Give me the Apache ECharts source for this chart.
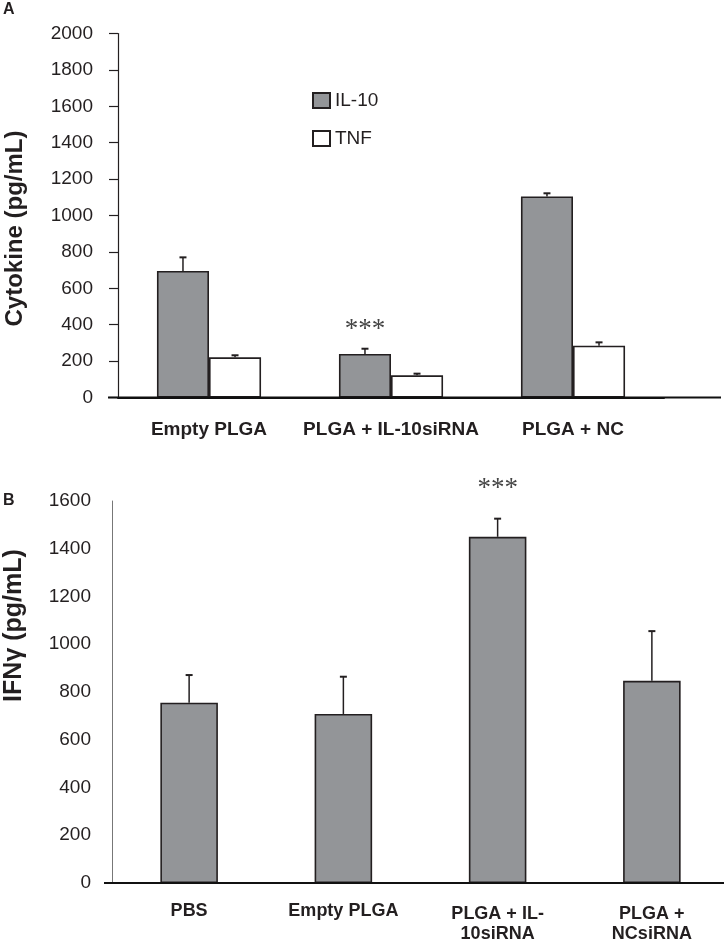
<!DOCTYPE html>
<html><head><meta charset="utf-8">
<script src="https://cdn.jsdelivr.net/npm/echarts@6/dist/echarts.min.js"></script>
<style>html,body{margin:0;padding:0;background:#fff}#c{width:724px;height:943px}</style>
</head><body><div id="c"></div>
<script>
// Panel A
const catsA = ['Empty PLGA', 'PLGA + IL-10siRNA', 'PLGA + NC'];
const il10 = [695, 239, 1105];
const il10Err = [75, 29, 17];
const tnf = [221, 122, 285];
const tnfErr = [11, 9, 18];
const sigA = ['', '***', ''];
const yTicksA = [0, 200, 400, 600, 800, 1000, 1200, 1400, 1600, 1800, 2000];
// Panel B
const catsB = ['PBS', 'Empty PLGA', 'PLGA + IL-\n10siRNA', 'PLGA +\nNCsiRNA'];
const ifng = [755, 708, 1450, 847];
const ifngErr = [116, 156, 76, 208];
const sigB = ['', '', '***', ''];
const yTicksB = [0, 200, 400, 600, 800, 1000, 1200, 1400, 1600];

const FONT = '"Liberation Sans", Arial, Helvetica, sans-serif';
const INK = '#231f20';
const GRAY = '#939598';
const BW_A = 0.286, BW_B = 0.373;
const gridA = {left: 118, top: 33.5, width: 546, height: 364, containLabel: false, outerBoundsMode: 'none'};
const gridB = {left: 112, top: 501, width: 617, height: 382, containLabel: false, outerBoundsMode: 'none'};

function errItem(offsetRatio, sig, sigGap) {
  return function (params, api) {
    const i = api.value(0), v = api.value(1), e = api.value(2);
    const base = api.coord([i, v]);
    const top = api.coord([i, v + e]);
    const band = api.size([1, 0])[0];
    const x = base[0] + band * offsetRatio;
    const children = [
      {type: 'line', shape: {x1: x, y1: base[1], x2: x, y2: top[1]}, style: {stroke: INK, lineWidth: 1.5}},
      {type: 'line', shape: {x1: x - 3.5, y1: top[1], x2: x + 3.5, y2: top[1]}, style: {stroke: INK, lineWidth: 2}}
    ];
    const s = sig[params.dataIndex];
    if (s) {
      children.push({type: 'text', x: x, y: top[1] - sigGap,
        style: {text: s, font: '27px "Liberation Serif", "Times New Roman", serif', fill: '#444',
          align: 'center', verticalAlign: 'middle', textAlign: 'center', textVerticalAlign: 'middle'}});
    }
    return {type: 'group', children: children};
  };
}

const plain = v => String(v);

const chart = echarts.init(document.getElementById('c'), null, {renderer: 'canvas'});
chart.setOption({
  animation: false,
  backgroundColor: '#fff',
  grid: [gridA, gridB],
  legend: {
    data: [{name: 'IL-10', icon: 'rect'}, {name: 'TNF', icon: 'rect'}],
    orient: 'vertical', left: 312, top: 91, padding: 0,
    itemWidth: 17, itemHeight: 15, itemGap: 19,
    textStyle: {fontFamily: FONT, fontSize: 19, color: INK}
  },
  xAxis: [
    {type: 'category', gridIndex: 0, data: catsA, z: 4,
      axisLine: {show: true, onZero: false, lineStyle: {color: '#111', width: 2}}, axisTick: {show: false},
      axisLabel: {margin: 23, fontFamily: FONT, fontSize: 19, fontWeight: 'bold', color: INK, interval: 0}},
    {type: 'category', gridIndex: 1, z: 4,
      data: catsB.map(c => c.indexOf('\n') >= 0 ? {value: c, textStyle: {padding: [3, 0, 0, 0]}} : c),
      axisLine: {show: true, onZero: false, lineStyle: {color: '#111', width: 2}}, axisTick: {show: false},
      axisLabel: {margin: 18, fontFamily: FONT, fontSize: 18, fontWeight: 'bold', color: INK, interval: 0, lineHeight: 20}}
  ],
  yAxis: [
    {type: 'value', gridIndex: 0, min: yTicksA[0], max: yTicksA[yTicksA.length - 1], interval: yTicksA[1] - yTicksA[0],
      splitLine: {show: false},
      axisLine: {show: true, lineStyle: {color: INK, width: 1.2}},
      axisTick: {show: true, length: 9, lineStyle: {color: INK, width: 1.2}},
      axisLabel: {margin: 25, fontFamily: FONT, fontSize: 19, color: INK, formatter: plain}},
    {type: 'value', gridIndex: 1, min: yTicksB[0], max: yTicksB[yTicksB.length - 1], interval: yTicksB[1] - yTicksB[0],
      splitLine: {show: false},
      axisLine: {show: true, lineStyle: {color: '#777', width: 1}},
      axisTick: {show: false},
      axisLabel: {margin: 21, fontFamily: FONT, fontSize: 19, color: INK, formatter: plain}}
  ],
  graphic: [
    {type: 'text', left: 3, top: 2, style: {text: 'A', font: 'bold 16px ' + FONT, fill: INK}},
    {type: 'text', left: 3, top: 493, style: {text: 'B', font: 'bold 16px ' + FONT, fill: INK}},
    {type: 'text', x: 15, y: 228.5, rotation: Math.PI / 2,
      style: {text: 'Cytokine (pg/mL)', font: 'bold 24px ' + FONT, fill: INK, align: 'center', verticalAlign: 'middle', textAlign: 'center', textVerticalAlign: 'middle'}},
    {type: 'text', x: 14, y: 625.5, rotation: Math.PI / 2,
      style: {text: 'IFNγ (pg/mL)', font: 'bold 25px ' + FONT, fill: INK, align: 'center', verticalAlign: 'middle', textAlign: 'center', textVerticalAlign: 'middle'}},
    // baseline rules spanning the full panel width (the axis extends past the plot areas)
    {type: 'line', silent: true, z: 10,
      shape: {x1: 108, y1: gridA.top + gridA.height, x2: 721, y2: gridA.top + gridA.height},
      style: {stroke: '#111', lineWidth: 2}},
    {type: 'line', silent: true, z: 10,
      shape: {x1: 104, y1: gridB.top + gridB.height, x2: 721, y2: gridB.top + gridB.height},
      style: {stroke: '#111', lineWidth: 2}}
  ],
  series: [
    {name: 'IL-10', type: 'bar', xAxisIndex: 0, yAxisIndex: 0, data: il10,
      barWidth: (BW_A * 100) + '%', barGap: '0%',
      itemStyle: {color: GRAY, borderColor: INK, borderWidth: 1.6}},
    {name: 'TNF', type: 'bar', xAxisIndex: 0, yAxisIndex: 0, data: tnf,
      barWidth: (BW_A * 100) + '%', barGap: '0%',
      itemStyle: {color: '#fff', borderColor: INK, borderWidth: 1.6}},
    {name: 'IL-10 err', type: 'custom', xAxisIndex: 0, yAxisIndex: 0, z: 5,
      data: il10.map((v, i) => [i, v, il10Err[i]]),
      renderItem: errItem(-BW_A / 2, sigA, 19)},
    {name: 'TNF err', type: 'custom', xAxisIndex: 0, yAxisIndex: 0, z: 5,
      data: tnf.map((v, i) => [i, v, tnfErr[i]]),
      renderItem: errItem(BW_A / 2, ['', '', ''], 0)},
    {name: 'IFNγ', type: 'bar', xAxisIndex: 1, yAxisIndex: 1, data: ifng,
      barWidth: (BW_B * 100) + '%',
      itemStyle: {color: GRAY, borderColor: INK, borderWidth: 1.6}},
    {name: 'IFNγ err', type: 'custom', xAxisIndex: 1, yAxisIndex: 1, z: 5,
      data: ifng.map((v, i) => [i, v, ifngErr[i]]),
      renderItem: errItem(0, sigB, 30)}
  ]
});
</script>
</body></html>
